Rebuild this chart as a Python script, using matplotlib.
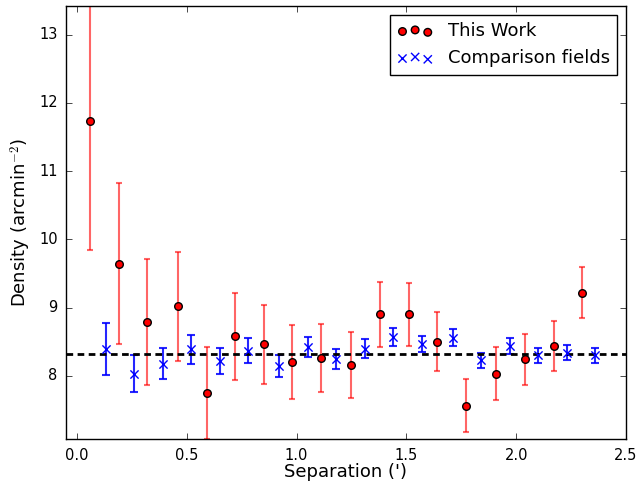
import matplotlib
matplotlib.use("Agg")
import matplotlib.pyplot as plt
import numpy as np

plt.style.use("classic")

# This Work (red)
red_x = [0.06, 0.19, 0.32, 0.46, 0.59, 0.72, 0.85, 0.98, 1.11, 1.25, 1.38, 1.51, 1.64, 1.77, 1.91, 2.04, 2.17, 2.30]
red_y = [11.73, 9.64, 8.79, 9.02, 7.75, 8.58, 8.46, 8.20, 8.26, 8.16, 8.90, 8.90, 8.50, 7.56, 8.03, 8.24, 8.44, 9.22]
red_err = [1.89, 1.18, 0.92, 0.80, 0.67, 0.64, 0.58, 0.54, 0.50, 0.48, 0.48, 0.46, 0.43, 0.39, 0.39, 0.38, 0.37, 0.37]

# Comparison fields (blue)
blue_x = [0.13, 0.26, 0.39, 0.52, 0.65, 0.78, 0.92, 1.05, 1.18, 1.31, 1.44, 1.57, 1.71, 1.84, 1.97, 2.10, 2.23, 2.36]
blue_y = [8.39, 8.03, 8.18, 8.39, 8.22, 8.37, 8.14, 8.42, 8.25, 8.40, 8.57, 8.47, 8.56, 8.23, 8.44, 8.30, 8.34, 8.30]
blue_err = [0.38, 0.27, 0.23, 0.21, 0.19, 0.18, 0.16, 0.15, 0.15, 0.14, 0.13, 0.12, 0.12, 0.11, 0.12, 0.11, 0.11, 0.11]

mean_level = 8.32

fig = plt.figure(figsize=(6.37, 4.87), dpi=100, facecolor="white")
ax = fig.add_axes([66 / 637, 1 - 439.3 / 487, 560 / 637, 433.3 / 487])

ax.errorbar(red_x, red_y, yerr=red_err, fmt="none", ecolor="red", alpha=0.6,
            capsize=2.5, elinewidth=1.5, capthick=1.5)
ax.errorbar(blue_x, blue_y, yerr=blue_err, fmt="none", ecolor="blue", alpha=0.85,
            capsize=3, elinewidth=1.5, capthick=1.5)
ax.scatter(red_x, red_y, s=30, c="red", edgecolors="black", linewidths=1, zorder=3, label="This Work")
ax.scatter(blue_x, blue_y, s=35, c="blue", marker="x", linewidths=1, zorder=3, label="Comparison fields")
ax.axhline(mean_level, color="black", linestyle="--", linewidth=2, dashes=(4.8, 3.2))

ax.set_xlim(-0.05, 2.5)
ax.set_ylim(7.07, 13.42)
ax.set_xticks([0.0, 0.5, 1.0, 1.5, 2.0, 2.5])
ax.set_yticks([8, 9, 10, 11, 12, 13])
ax.set_xlabel("Separation (')", fontsize=13, labelpad=0.5)
ax.set_ylabel("Density (arcmin$^{-2}$)", fontsize=13, labelpad=4)
ax.tick_params(labelsize=10.5, pad=6)
ax.legend(loc="upper right", fontsize=13, scatterpoints=3)

fig.savefig("out.png", dpi=100, facecolor="white")
